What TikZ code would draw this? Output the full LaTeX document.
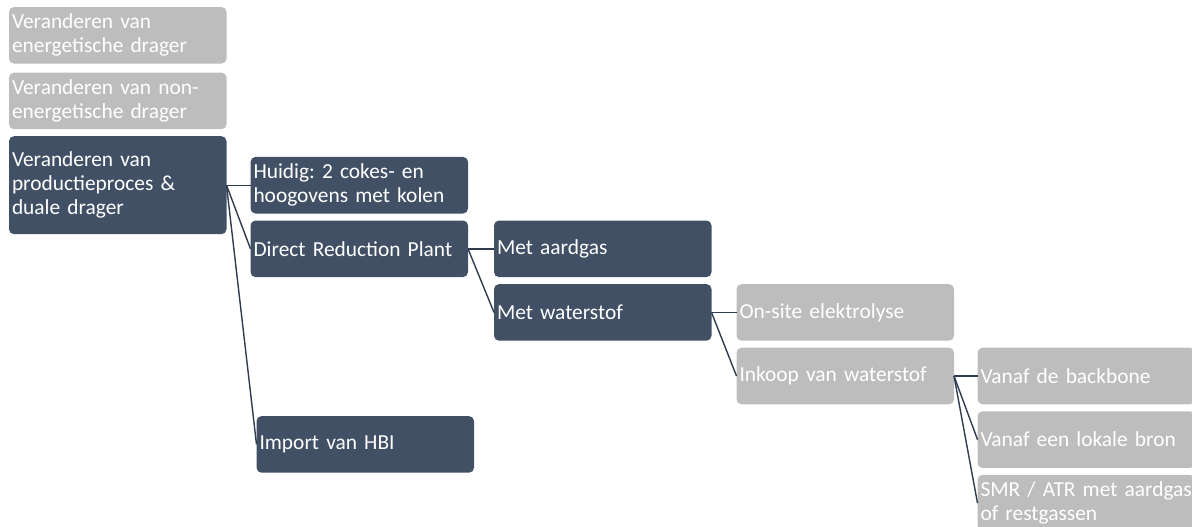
\documentclass[tikz,border=0pt]{standalone}
\usepackage{fontspec}
\setmainfont{Carlito}
\frenchspacing
\usetikzlibrary{
    positioning
}
\definecolor{slate}{RGB}{66,80,102}
\definecolor{lightgrey}{RGB}{189,189,189}
\definecolor{linkcolor}{RGB}{47,59,78}
\tikzset{%
    option/.style={%
        rectangle,
        rounded corners=2.5pt,
        inner xsep=1.5pt,
        inner ysep=0pt,
        outer sep=0pt,
        text width=105.75pt,
        minimum height=28.3pt,
        align=left,
        text=white,
        font=\fontsize{10.7pt}{12pt}\selectfont
    },
    active option/.style={%
        option,
        fill=slate,
    },
    inactive option/.style={%
        option,
        fill=lightgrey,
    },
    link/.style={%
        draw=linkcolor,
        line width=0.7pt,
    },
}

\begin{document}
\begin{tikzpicture}
    \useasboundingbox (0,0) rectangle (596pt,-263pt);

    \node[inactive option, anchor=north west] (energetic) at (4.5pt,-3.5pt) {Veranderen van\\energetische drager};
    \node[inactive option, below=4.5pt of energetic] (nonenergetic) {Veranderen van non-\\energetische drager};
    \node[active option, below=3.5pt of nonenergetic, minimum height=49pt] (process) {Veranderen van\\productieproces \&\\duale drager};

    \node[active option, right=12pt of process] (current) {Huidig: 2 cokes- en\\hoogovens met kolen};
    \node[active option, below=3.5pt of current] (reduction) {Direct Reduction Plant};
    \node[active option, below=69.5pt of reduction, xshift=3pt] (import) {Import van HBI};

    \node[active option, right=13pt of reduction] (naturalgas) {Met aardgas};
    \node[active option, below=3.5pt of naturalgas] (hydrogen) {Met waterstof};

    \node[inactive option, right=12.5pt of hydrogen] (electrolysis) {On-site elektrolyse};
    \node[inactive option, below=3.5pt of electrolysis] (purchase) {Inkoop van waterstof};

    \node[inactive option, right=11.75pt of purchase] (backbone) {Vanaf de backbone};
    \node[inactive option, below=3.5pt of backbone] (localsource) {Vanaf een lokale bron};
    \node[inactive option, below=3.5pt of localsource] (reforming) {\mbox{SMR / ATR met aardgas}\\of restgassen};

    \draw[link] (process.east) -- (current.west);
    \draw[link] (process.east) -- (reduction.west);
    \draw[link] (process.east) -- (import.west);
    \draw[link] (reduction.east) -- (naturalgas.west);
    \draw[link] (reduction.east) -- (hydrogen.west);
    \draw[link] (hydrogen.east) -- (electrolysis.west);
    \draw[link] (hydrogen.east) -- (purchase.west);
    \draw[link] (purchase.east) -- (backbone.west);
    \draw[link] (purchase.east) -- (localsource.west);
    \draw[link] (purchase.east) -- (reforming.west);
\end{tikzpicture}
\end{document}
